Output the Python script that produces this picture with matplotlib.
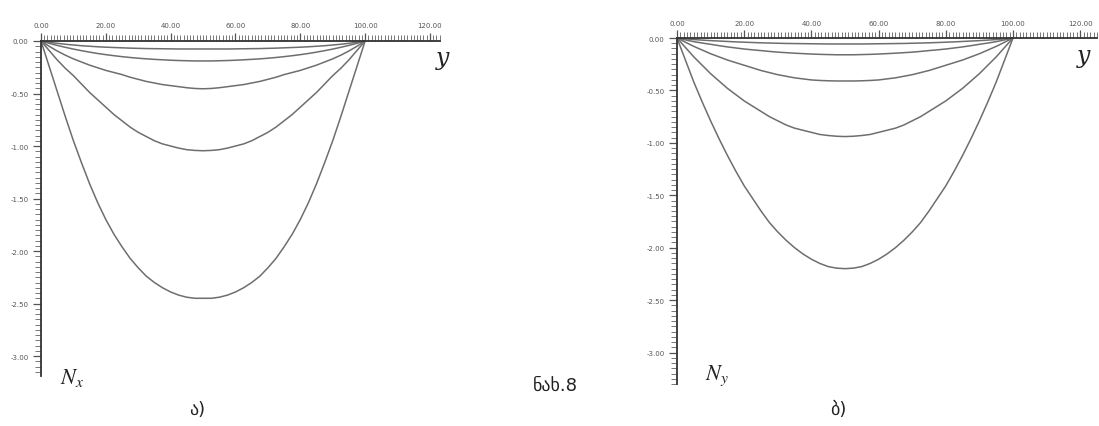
import matplotlib
matplotlib.use("Agg")
import matplotlib.pyplot as plt
from matplotlib.ticker import MultipleLocator, FixedLocator

plt.rcParams['font.family'] = ['DejaVu Sans']
plt.rcParams['mathtext.fontset'] = 'stix'

# y positions along the plate
ys = [0, 2.5, 5, 7.5, 10, 12.5, 15, 17.5, 20, 22.5, 25, 27.5, 30, 32.5, 35, 37.5, 40, 42.5, 45, 47.5,
      50, 52.5, 55, 57.5, 60, 62.5, 65, 67.5, 70, 72.5, 75, 77.5, 80, 82.5, 85, 87.5, 90, 92.5, 95, 97.5, 100]

# left panel (a): N_x
nx_1 = [0, -0.012, -0.022, -0.031, -0.038, -0.045, -0.050, -0.055, -0.059, -0.062, -0.065, -0.068, -0.070,
        -0.072, -0.073, -0.074, -0.075, -0.076, -0.076, -0.076, -0.076, -0.076, -0.076, -0.076, -0.075,
        -0.074, -0.073, -0.072, -0.070, -0.068, -0.065, -0.062, -0.059, -0.055, -0.050, -0.045, -0.038,
        -0.031, -0.022, -0.012, 0]
nx_2 = [0, -0.022, -0.042, -0.060, -0.077, -0.092, -0.106, -0.119, -0.130, -0.140, -0.149, -0.157, -0.164,
        -0.170, -0.175, -0.179, -0.183, -0.186, -0.188, -0.190, -0.190, -0.190, -0.188, -0.186, -0.183,
        -0.179, -0.175, -0.170, -0.164, -0.157, -0.149, -0.140, -0.130, -0.119, -0.106, -0.092, -0.077,
        -0.060, -0.042, -0.022, 0]
nx_3 = [0, -0.050, -0.095, -0.135, -0.170, -0.200, -0.230, -0.255, -0.280, -0.300, -0.320, -0.345, -0.365,
        -0.385, -0.400, -0.415, -0.425, -0.435, -0.445, -0.452, -0.455, -0.452, -0.445, -0.435, -0.425,
        -0.415, -0.400, -0.385, -0.365, -0.345, -0.320, -0.300, -0.280, -0.255, -0.230, -0.200, -0.170,
        -0.135, -0.095, -0.050, 0]
nx_4 = [0, -0.09, -0.18, -0.26, -0.33, -0.41, -0.49, -0.56, -0.63, -0.70, -0.76, -0.82, -0.87, -0.91,
        -0.95, -0.98, -1.00, -1.02, -1.035, -1.042, -1.045, -1.042, -1.035, -1.02, -1.00, -0.98, -0.95,
        -0.91, -0.87, -0.82, -0.76, -0.70, -0.63, -0.56, -0.49, -0.41, -0.33, -0.26, -0.18, -0.09, 0]
nx_5 = [0, -0.24, -0.48, -0.72, -0.95, -1.16, -1.36, -1.54, -1.70, -1.84, -1.96, -2.07, -2.16, -2.24,
        -2.30, -2.35, -2.39, -2.42, -2.44, -2.45, -2.45, -2.45, -2.44, -2.42, -2.39, -2.35, -2.30, -2.24,
        -2.16, -2.07, -1.96, -1.84, -1.70, -1.54, -1.36, -1.16, -0.95, -0.72, -0.48, -0.24, 0]

# right panel (b): N_y
ny_1 = [0, -0.008, -0.015, -0.020, -0.025, -0.029, -0.033, -0.037, -0.040, -0.043, -0.046, -0.048, -0.050,
        -0.052, -0.053, -0.054, -0.055, -0.056, -0.057, -0.057, -0.057, -0.057, -0.057, -0.056, -0.055,
        -0.054, -0.053, -0.052, -0.050, -0.048, -0.046, -0.043, -0.040, -0.037, -0.033, -0.029, -0.025,
        -0.020, -0.015, -0.008, 0]
ny_2 = [0, -0.018, -0.035, -0.048, -0.060, -0.073, -0.085, -0.095, -0.105, -0.113, -0.120, -0.128, -0.135,
        -0.140, -0.145, -0.149, -0.153, -0.156, -0.158, -0.160, -0.160, -0.160, -0.158, -0.156, -0.153,
        -0.149, -0.145, -0.140, -0.135, -0.128, -0.120, -0.113, -0.105, -0.095, -0.085, -0.073, -0.060,
        -0.048, -0.035, -0.018, 0]
ny_3 = [0, -0.040, -0.080, -0.115, -0.150, -0.180, -0.210, -0.235, -0.260, -0.285, -0.310, -0.330, -0.350,
        -0.365, -0.380, -0.390, -0.400, -0.405, -0.408, -0.410, -0.410, -0.410, -0.408, -0.405, -0.400,
        -0.390, -0.380, -0.365, -0.350, -0.330, -0.310, -0.285, -0.260, -0.235, -0.210, -0.180, -0.150,
        -0.115, -0.080, -0.040, 0]
ny_4 = [0, -0.09, -0.18, -0.26, -0.34, -0.41, -0.48, -0.54, -0.60, -0.65, -0.70, -0.75, -0.79, -0.83,
        -0.86, -0.88, -0.90, -0.92, -0.93, -0.937, -0.94, -0.937, -0.93, -0.92, -0.90, -0.88, -0.86, -0.83,
        -0.79, -0.75, -0.70, -0.65, -0.60, -0.54, -0.48, -0.41, -0.34, -0.26, -0.18, -0.09, 0]
ny_5 = [0, -0.21, -0.42, -0.61, -0.79, -0.96, -1.12, -1.27, -1.41, -1.53, -1.65, -1.76, -1.85, -1.93,
        -2.00, -2.06, -2.11, -2.15, -2.18, -2.195, -2.20, -2.195, -2.18, -2.15, -2.11, -2.06, -2.00, -1.93,
        -1.85, -1.76, -1.65, -1.53, -1.41, -1.27, -1.12, -0.96, -0.79, -0.61, -0.42, -0.21, 0]

x_ticks = [0, 20, 40, 60, 80, 100, 120]
x_labels = ["0.00", "20.00", "40.00", "60.00", "80.00", "100.00", "120.00"]
y_ticks = [0, -0.5, -1.0, -1.5, -2.0, -2.5, -3.0]
y_labels = ["0.00", "-0.50", "-1.00", "-1.50", "-2.00", "-2.50", "-3.00"]

W, H = 1099, 427
fig = plt.figure(figsize=(W / 100, H / 100), dpi=100)


def panel(px_left, px_right, px_top, px_bottom, xmax, ymin, curves):
    ax = fig.add_axes([px_left / W, 1 - px_bottom / H,
                       (px_right - px_left) / W, (px_bottom - px_top) / H])
    for c in curves:
        ax.plot(ys, c, color='#6e6e6e', lw=1.1, clip_on=False, solid_joinstyle='round')
    ax.set_xlim(0, xmax)
    ax.set_ylim(ymin, 0)
    for s in ['right', 'bottom']:
        ax.spines[s].set_visible(False)
    for s in ['top', 'left']:
        ax.spines[s].set_color('#333333')
        ax.spines[s].set_linewidth(1.3)
    ax.xaxis.tick_top()
    ax.xaxis.set_major_locator(FixedLocator(x_ticks))
    ax.set_xticklabels(x_labels)
    ax.xaxis.set_minor_locator(MultipleLocator(1))
    ax.yaxis.set_major_locator(FixedLocator(y_ticks))
    ax.set_yticklabels(y_labels)
    ax.yaxis.set_minor_locator(MultipleLocator(0.05))
    ax.tick_params(which='major', length=6, width=0.9, color='#555555',
                   labelsize=5, labelcolor='#555555', pad=3)
    ax.tick_params(which='minor', length=4, width=0.7, color='#777777')
    ax.patch.set_alpha(0)
    return ax


panel(41, 440, 42, 377, 123.1, -3.19, [nx_1, nx_2, nx_3, nx_4, nx_5])
panel(677, 1097, 39, 385, 125.0, -3.30, [ny_1, ny_2, ny_3, ny_4, ny_5])

# axis names and captions
fig.text(443 / W, 1 - 58 / H, 'y', fontsize=17, style='italic', family='DejaVu Serif',
         ha='center', va='center', color='#222222')
fig.text(1084 / W, 1 - 56 / H, 'y', fontsize=17, style='italic', family='DejaVu Serif',
         ha='center', va='center', color='#222222')
fig.text(60 / W, 1 - 378 / H, r'$N_x$', fontsize=16, ha='left', va='center', color='#222222')
fig.text(705 / W, 1 - 376 / H, r'$N_y$', fontsize=16, ha='left', va='center', color='#222222')
fig.text(197 / W, 1 - 410 / H, 'ა)', fontsize=13, ha='center', va='center', color='#222222')
fig.text(838 / W, 1 - 410 / H, 'ბ)', fontsize=13, ha='center', va='center', color='#222222')
fig.text(555 / W, 1 - 386 / H, 'ნახ.8', fontsize=13, ha='center', va='center', color='#222222')

fig.savefig('out.png', dpi=100)
